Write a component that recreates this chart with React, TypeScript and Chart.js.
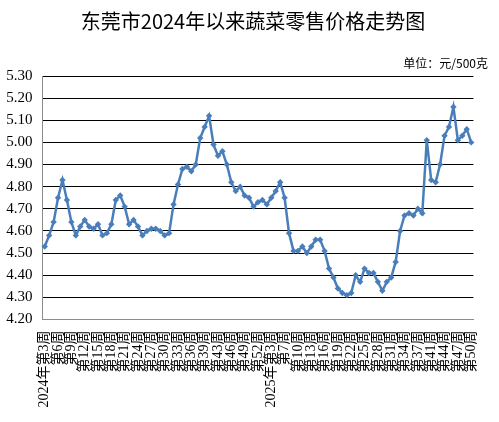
import React, { useEffect, useRef } from "react";
import { Chart, registerables } from "chart.js";

Chart.register(...registerables);

const TITLE = "东莞市2024年以来蔬菜零售价格走势图";
const UNIT = "单位：元/500克";

const weeks2024 = [3, 4, 5, 6, 7, 8, 9, 10, 11, 12, 13, 14, 15, 16, 17, 18, 19, 20, 21, 22, 23, 24, 25, 26, 27, 28, 29, 30, 31, 32, 33, 34, 35, 36, 37, 38, 39, 41, 42, 43, 44, 45, 46, 47, 48, 49, 50, 51, 52];
const weeks2025 = [1, 2, 3, 4, 6, 7, 8, 9, 10, 11, 12, 13, 14, 15, 16, 17, 18, 19, 20, 21, 22, 23, 24, 25, 26, 27, 28, 29, 30, 31, 32, 33, 34, 35, 36, 37, 38, 39, 41, 42, 43, 44, 45, 46, 47, 48, 49, 50];

const prices2024 = [
  4.53, 4.58, 4.64, 4.75, 4.83, 4.74, 4.64, 4.58, 4.62, 4.65,
  4.62, 4.61, 4.63, 4.58, 4.59, 4.63, 4.74, 4.76, 4.71, 4.63,
  4.65, 4.62, 4.58, 4.60, 4.61, 4.61, 4.60, 4.58, 4.59, 4.72,
  4.81, 4.88, 4.89, 4.87, 4.90, 5.02, 5.07, 5.12, 4.99, 4.94,
  4.96, 4.90, 4.82, 4.78, 4.80, 4.76, 4.75, 4.71, 4.73,
];
const prices2025 = [
  4.74, 4.72, 4.75, 4.78, 4.82, 4.75, 4.59, 4.51, 4.51, 4.53,
  4.50, 4.53, 4.56, 4.56, 4.51, 4.43, 4.39, 4.34, 4.32, 4.31,
  4.32, 4.40, 4.37, 4.43, 4.41, 4.41, 4.37, 4.33, 4.37, 4.39,
  4.46, 4.60, 4.67, 4.68, 4.67, 4.70, 4.68, 5.01, 4.83, 4.82,
  4.90, 5.03, 5.07, 5.16, 5.01, 5.03, 5.06, 5.00,
];

const Y_MIN = 4.2;
const Y_MAX = 5.3;
const Y_STEP = 0.1;
const LABEL_EVERY = 3;

const makeLabel = (year: number, w: number) => (w === 3 ? `${year}年第${w}周` : `第${w}周`);
const labels = [
  ...weeks2024.map((w) => makeLabel(2024, w)),
  ...weeks2025.map((w) => makeLabel(2025, w)),
];
const values = [...prices2024, ...prices2025];

const SERIF = '"Liberation Serif", "Times New Roman", "Noto Sans CJK SC", serif';
const CJK = '"Noto Sans CJK SC", "Liberation Serif", serif';
const BLUE = "#4A7EBB";

const textPlugin = {
  id: "titleText",
  afterDraw(chart: any) {
    const ctx = chart.ctx;
    ctx.save();
    ctx.fillStyle = "#000";
    ctx.textBaseline = "middle";
    ctx.textAlign = "center";
    ctx.font = `20px ${CJK}`;
    ctx.fillText(TITLE, 253, 21);
    ctx.textAlign = "right";
    ctx.font = `12px ${CJK}`;
    ctx.fillText(UNIT, 488, 63);
    ctx.restore();
  },
};

export default function App() {
  const ref = useRef<HTMLCanvasElement>(null);
  useEffect(() => {
    document.body.style.margin = "0";
    const canvas = ref.current!;
    const chart = new Chart(canvas, {
      type: "line",
      data: {
        labels,
        datasets: [
          {
            data: values,
            borderColor: BLUE,
            backgroundColor: BLUE,
            borderWidth: 2.5,
            pointStyle: "rectRot",
            pointRadius: 3.2,
            pointBorderWidth: 0,
            pointBackgroundColor: BLUE,
            tension: 0,
          },
        ],
      },
      options: {
        responsive: false,
        animation: false,
        devicePixelRatio: 1,
        layout: { padding: { top: 76, right: 4, left: 0, bottom: 0 } },
        plugins: {
          legend: { display: false },
          tooltip: { enabled: false },
          title: { display: false },
        },
        scales: {
          x: {
            type: "category",
            offset: true,
            grid: { display: false, drawTicks: false },
            border: { display: true, color: "#8c8c8c", width: 1 },
            ticks: {
              autoSkip: false,
              maxRotation: 90,
              minRotation: 90,
              padding: 11,
              color: "#000",
              font: { family: SERIF, size: 14 },
              callback: (_v: any, i: number) => (i % LABEL_EVERY === 0 ? labels[i] : ""),
            },
            afterFit: (s: any) => {
              s.height = 102.5;
            },
          },
          y: {
            min: Y_MIN,
            max: Y_MAX,
            grid: {
              drawTicks: false,
              color: (c: any) => (c.tick && Math.abs(c.tick.value - Y_MIN) < 1e-6 ? "rgba(0,0,0,0)" : "#000"),
              lineWidth: 1,
            },
            border: { display: true, color: "#8c8c8c", width: 1 },
            ticks: {
              stepSize: Y_STEP,
              padding: 10,
              color: "#000",
              font: { family: SERIF, size: 15 },
              callback: (v: any) => Number(v).toFixed(2),
            },
            afterFit: (s: any) => {
              s.width = 42.5;
            },
          },
        },
      },
      plugins: [textPlugin],
    });
    return () => chart.destroy();
  }, []);
  return <canvas ref={ref} width={499} height={422} style={{ display: "block", width: 499, height: 422 }} />;
}
